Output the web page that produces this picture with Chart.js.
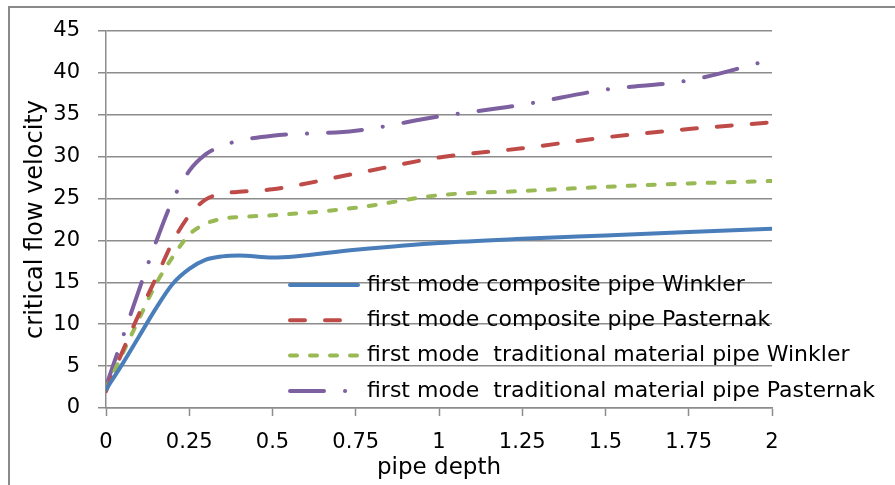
<!DOCTYPE html>
<html>
<head>
<meta charset="utf-8">
<script src="https://cdn.jsdelivr.net/npm/chart.js@4.4.1/dist/chart.umd.min.js"></script>
<style>
  html, body { margin: 0; padding: 0; background: #fff; }
  #wrap { width: 895px; height: 485px; }
</style>
</head>
<body>
<div id="wrap"><canvas id="chart-1" width="895" height="485"></canvas></div>
<script>
// pipe depth values where the curves were sampled
var depth = [0, 0.05, 0.1, 0.15, 0.2, 0.25, 0.3, 0.35, 0.4, 0.5, 0.75, 1, 1.25, 1.5, 1.75, 2];

var compositeWinkler   = [2.2, 5.3, 8.6, 11.9, 14.8, 16.6, 17.7, 18.1, 18.2, 17.95, 18.9, 19.7, 20.2, 20.6, 21.0, 21.4];
var compositePasternak = [2.0, 6.8, 11.3, 15.5, 19.8, 23.0, 24.9, 25.6, 25.8, 26.1, 28.0, 29.9, 31.0, 32.3, 33.3, 34.1];
var tradWinkler        = [2.3, 6.5, 10.7, 14.8, 18.0, 20.7, 22.0, 22.6, 22.8, 23.0, 23.9, 25.4, 25.9, 26.4, 26.8, 27.1];
var tradPasternak      = [2.6, 8.4, 14.2, 19.8, 24.8, 28.3, 30.3, 31.3, 31.9, 32.5, 33.1, 34.8, 36.2, 38.0, 39.1, 41.6];

var seriesNames = [
    "first mode composite pipe Winkler",
    "first mode composite pipe Pasternak",
    "first mode  traditional material pipe Winkler",
    "first mode  traditional material pipe Pasternak"
];

var xTicks = [0, 0.25, 0.5, 0.75, 1, 1.25, 1.5, 1.75, 2];
var xTickLabels = ["0", "0.25", "0.5", "0.75", "1", "1.25", "1.5", "1.75", "2"];
var yTicks = [0, 5, 10, 15, 20, 25, 30, 35, 40, 45];

function points(values) {
    var out = [];
    for (let i = 0; i < depth.length; i++) {
        out.push({ x: depth[i], y: values[i] });
    }
    return out;
}

var gridGray = '#8c8c8c';

// outer frame of the chart object (only top and left edges are visible)
const framePlugin = {
    id: 'frame',
    beforeDraw(chart) {
        const ctx = chart.ctx;
        ctx.save();
        ctx.strokeStyle = '#8a8a8a';
        ctx.lineWidth = 2;
        ctx.strokeRect(9, 7, 2000, 2000);
        ctx.restore();
    }
};

// legend sitting inside the plot, drawn with the dataset styles
const insideLegend = {
    id: 'insideLegend',
    afterDatasetsDraw(chart) {
        const ctx = chart.ctx;
        const left = 290, lineEnd = 358, textX = 367, top = 285, step = 35.3;
        ctx.save();
        chart.data.datasets.forEach((ds, i) => {
            const y = top + i * step;
            ctx.beginPath();
            ctx.strokeStyle = ds.borderColor;
            ctx.lineWidth = ds.borderWidth;
            ctx.lineCap = ds.borderCapStyle || 'butt';
            ctx.setLineDash(ds.borderDash || []);
            ctx.moveTo(left, y);
            ctx.lineTo(lineEnd, y);
            ctx.stroke();
            ctx.setLineDash([]);
            ctx.fillStyle = '#000';
            ctx.font = '22px "DejaVu Sans"';
            ctx.textBaseline = 'middle';
            ctx.textAlign = 'left';
            ctx.fillText(ds.label, textX, y);
        });
        ctx.restore();
    }
};

const ctx = document.getElementById("chart-1").getContext("2d");
const myChart = new Chart(ctx, {
    type: "line",
    data: {
        datasets: [{
            label: seriesNames[0],
            data: points(compositeWinkler),
            borderColor: '#4A7EBB',
            borderWidth: 4,
            borderCapStyle: 'round',
        }, {
            label: seriesNames[1],
            data: points(compositePasternak),
            borderColor: '#BE4B48',
            borderWidth: 4,
            borderCapStyle: 'round',
            borderDash: [15, 20],
        }, {
            label: seriesNames[2],
            data: points(tradWinkler),
            borderColor: '#98B954',
            borderWidth: 4,
            borderCapStyle: 'round',
            borderDash: [7, 13],
        }, {
            label: seriesNames[3],
            data: points(tradPasternak),
            borderColor: '#7D60A0',
            borderWidth: 4,
            borderCapStyle: 'round',
            borderDash: [34, 21, 0.1, 21],
        }],
    },
    options: {
        responsive: false,
        animation: false,
        elements: {
            point: { radius: 0, hoverRadius: 0 },
            line: { cubicInterpolationMode: 'monotone' },
        },
        layout: {
            padding: { top: 31, right: 123, left: 0, bottom: 0 },
        },
        plugins: {
            legend: { display: false },
            tooltip: { enabled: false },
        },
        scales: {
            x: {
                type: 'linear',
                min: 0,
                max: 2,
                afterBuildTicks: (axis) => {
                    axis.ticks = xTicks.map(v => ({ value: v }));
                },
                afterFit: (axis) => { axis.height = 77; },
                grid: {
                    drawOnChartArea: false,
                    drawTicks: true,
                    tickLength: 8,
                    tickColor: gridGray,
                    tickWidth: 1.5,
                },
                border: { display: true, color: gridGray, width: 1.5 },
                ticks: {
                    color: '#000',
                    font: { family: 'DejaVu Sans', size: 21 },
                    padding: 14,
                    maxRotation: 0,
                    autoSkip: false,
                    callback: (value) => xTickLabels[xTicks.indexOf(value)],
                },
                title: {
                    display: true,
                    text: 'pipe depth',
                    color: '#000',
                    font: { family: 'DejaVu Sans', size: 23 },
                    padding: { top: 0, bottom: 3 },
                },
            },
            y: {
                min: 0,
                max: 45,
                afterBuildTicks: (axis) => {
                    axis.ticks = yTicks.map(v => ({ value: v }));
                },
                afterFit: (axis) => { axis.width = 106; },
                grid: {
                    color: gridGray,
                    lineWidth: 1.5,
                    drawTicks: true,
                    tickLength: 8,
                    tickColor: gridGray,
                },
                border: { display: true, color: gridGray, width: 1.5 },
                ticks: {
                    color: '#000',
                    font: { family: 'DejaVu Sans', size: 21 },
                    padding: 18,
                },
                title: {
                    display: true,
                    text: 'critical flow velocity',
                    color: '#000',
                    font: { family: 'DejaVu Sans', size: 24 },
                    padding: { top: 21, bottom: 0 },
                },
            },
        },
    },
    plugins: [framePlugin, insideLegend],
});
</script>
</body>
</html>
